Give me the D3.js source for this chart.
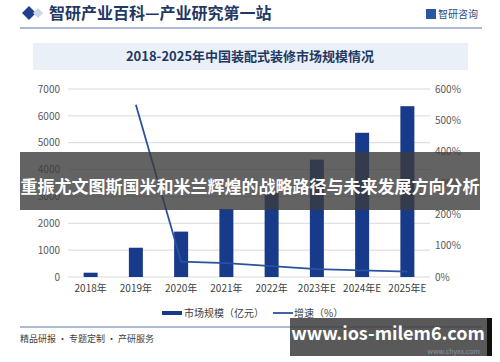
<!DOCTYPE html>
<html>
<head>
<meta charset="utf-8">
<script src="https://cdn.jsdelivr.net/npm/d3@7"></script>
<style>
  body { margin: 0; background: #fff; }
  #chart { width: 500px; height: 362px; }
  text { font-family: "Noto Sans CJK SC", "Noto Sans", sans-serif; }
</style>
</head>
<body>
<div id="chart"></div>
<script>
// data
const years = ["2018年", "2019年", "2020年", "2021年", "2022年", "2023年E", "2024年E", "2025年E"];
const marketSize = [160, 1090, 1690, 2530, 3120, 4370, 5370, 6360];   // 亿元
const growth = [null, 550, 49, 44, 35, 25, 21, 17];                  // %
const leftTicks = [0, 1000, 2000, 3000, 4000, 5000, 6000, 7000];
const rightTicks = [0, 100, 200, 300, 400, 500, 600];

const width = 500, height = 362;
const svg = d3.select("#chart").append("svg")
    .attr("width", width)
    .attr("height", height);

// header
svg.append("path")
    .attr("d", "M22,13 L29,6 L36,13 L29,20 Z")
    .attr("fill", "#1f3f8c");
svg.append("path")
    .attr("d", "M33,13 L38,8 L43,13 L38,18 Z")
    .attr("fill", "#c9d6ea");
svg.append("text")
    .attr("x", 49).attr("y", 19)
    .attr("font-size", 16).attr("font-weight", "bold")
    .attr("fill", "#1f3864")
    .text("智研产业百科—产业研究第一站");
svg.append("rect").attr("x", 426).attr("y", 9).attr("width", 10).attr("height", 10).attr("fill", "#2a56a6");
svg.append("text")
    .attr("x", 438).attr("y", 18)
    .attr("font-size", 10)
    .attr("fill", "#2a4a86")
    .text("智研咨询");
svg.append("line")
    .attr("x1", 20).attr("x2", 482).attr("y1", 28).attr("y2", 28)
    .attr("stroke", "#5b77a6").attr("stroke-width", 1);

// title box
svg.append("rect")
    .attr("x", 33).attr("y", 43).attr("width", 435).attr("height", 27)
    .attr("fill", "#eaf0f8");
svg.append("text")
    .attr("x", 250).attr("y", 61)
    .attr("text-anchor", "middle")
    .attr("font-size", 13).attr("font-weight", "bold")
    .attr("fill", "#1f3864")
    .text("2018-2025年中国装配式装修市场规模情况");

// scales
const x = d3.scaleBand().domain(years).range([68, 430]);
const yL = d3.scaleLinear().domain([0, 7000]).range([277, 89]);
const yR = d3.scaleLinear().domain([0, 600]).range([277, 89]);

// gridlines
svg.append("g")
    .selectAll("line")
    .data(leftTicks)
    .join("line")
    .attr("x1", 68).attr("x2", 430)
    .attr("y1", d => yL(d)).attr("y2", d => yL(d))
    .attr("stroke", "#d9d9d9").attr("stroke-width", 1);

// left axis
const axL = svg.append("g")
    .attr("transform", "translate(60,0)")
    .call(d3.axisLeft(yL).tickValues(leftTicks).tickSize(0).tickPadding(0)
        .tickFormat(d3.format("d")));
axL.select(".domain").remove();
axL.selectAll("text").attr("font-size", 10).attr("fill", "#595959");

// right axis
const axR = svg.append("g")
    .attr("transform", "translate(435,0)")
    .call(d3.axisRight(yR).tickValues(rightTicks).tickSize(0).tickPadding(0)
        .tickFormat(d => d + "%"));
axR.select(".domain").remove();
axR.selectAll("text").attr("font-size", 10).attr("fill", "#595959");

// bottom axis
const axB = svg.append("g")
    .attr("transform", "translate(0,277)")
    .call(d3.axisBottom(x).tickSize(0).tickPadding(8));
axB.select(".domain").remove();
axB.selectAll("text").attr("font-size", 10).attr("fill", "#404040");

// bars
const bw = 14;
svg.append("g")
    .selectAll("rect")
    .data(marketSize)
    .join("rect")
    .attr("x", (d, i) => x(years[i]) + x.bandwidth() / 2 - bw / 2)
    .attr("y", d => yL(d))
    .attr("width", bw)
    .attr("height", d => yL(0) - yL(d))
    .attr("fill", "#173b8a");

// growth line
const line = d3.line()
    .defined(d => d != null)
    .x((d, i) => x(years[i]) + x.bandwidth() / 2)
    .y(d => yR(d));
svg.append("path")
    .datum(growth)
    .attr("d", line)
    .attr("fill", "none")
    .attr("stroke", "#2b52a0")
    .attr("stroke-width", 1.8);

// legend
svg.append("rect").attr("x", 162).attr("y", 311).attr("width", 20).attr("height", 4).attr("fill", "#173b8a");
svg.append("text").attr("x", 184).attr("y", 317).attr("font-size", 10).attr("fill", "#404040").text("市场规模（亿元）");
svg.append("line").attr("x1", 273).attr("x2", 293).attr("y1", 313).attr("y2", 313)
    .attr("stroke", "#2b52a0").attr("stroke-width", 1.8);
svg.append("text").attr("x", 294).attr("y", 317).attr("font-size", 10).attr("fill", "#404040").text("增速（%）");

// footer
svg.append("line")
    .attr("x1", 20).attr("x2", 482).attr("y1", 327).attr("y2", 327)
    .attr("stroke", "#5b77a6").attr("stroke-width", 1);
svg.append("text")
    .attr("x", 20).attr("y", 342)
    .attr("font-size", 9).attr("fill", "#404040")
    .text("精品研报 · 专题定制 · 产研服务");

// overlay banner
svg.append("rect")
    .attr("x", 20).attr("y", 152).attr("width", 460).attr("height", 58)
    .attr("fill", "#3c3c3c").attr("fill-opacity", 0.8);
svg.append("text")
    .attr("x", 250).attr("y", 193)
    .attr("text-anchor", "middle")
    .attr("font-size", 17).attr("font-weight", "bold")
    .attr("fill", "#fff")
    .text("重振尤文图斯国米和米兰辉煌的战略路径与未来发展方向分析");

// bottom right box
svg.append("rect")
    .attr("x", 290).attr("y", 318).attr("width", 202).attr("height", 38)
    .attr("fill", "#3c3c3c").attr("fill-opacity", 0.85);
svg.append("rect")
    .attr("x", 487).attr("y", 318).attr("width", 5).attr("height", 38)
    .attr("fill", "#111");
svg.append("text")
    .attr("x", 388).attr("y", 340)
    .attr("text-anchor", "middle")
    .attr("font-size", 18).attr("font-weight", "bold")
    .attr("fill", "#fff")
    .text("www.ios-milem6.com");
svg.append("text")
    .attr("x", 480).attr("y", 354)
    .attr("text-anchor", "end")
    .attr("font-size", 7)
    .attr("fill", "#8a94a8")
    .text("www.chyxx.com");
</script>
</body>
</html>
